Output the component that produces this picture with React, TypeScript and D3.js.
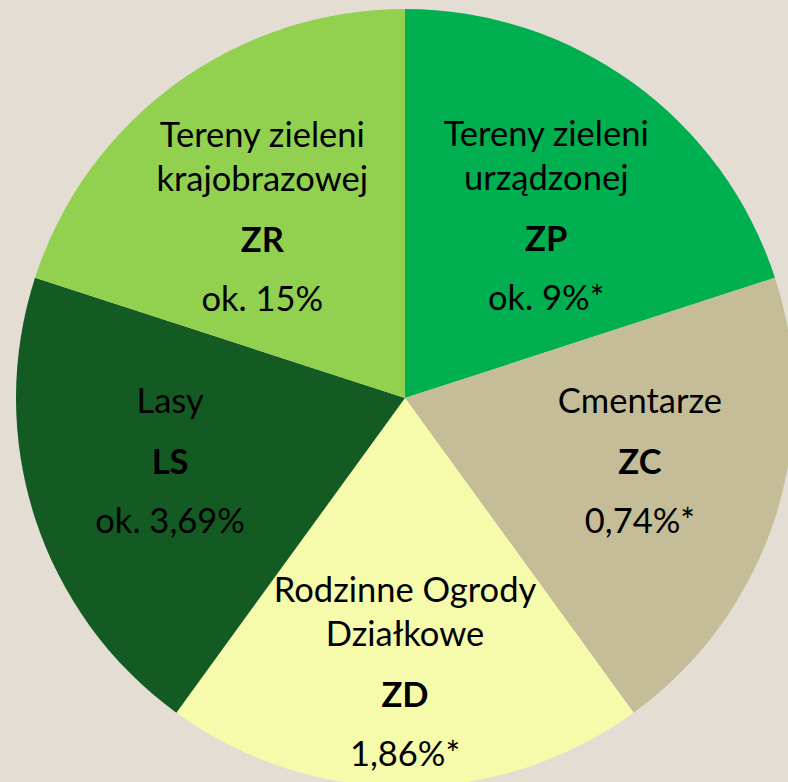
import { useEffect, useRef } from "react";
import * as d3 from "d3";

// slices clockwise from the top; the chart draws them as equal parts
const codes = ["ZP", "ZC", "ZD", "LS", "ZR"];
const names = [
  ["Tereny zieleni", "urządzonej"],
  ["Cmentarze"],
  ["Rodzinne Ogrody", "Działkowe"],
  ["Lasy"],
  ["Tereny zieleni", "krajobrazowej"],
];
const shares = ["ok. 9%*", "0,74%*", "1,86%*", "ok. 3,69%", "ok. 15%"];
const sliceWeights = [1, 1, 1, 1, 1];
const colors = ["#00b050", "#c4bd97", "#f5fbaa", "#145a23", "#92d050"];

export default function App() {
  const ref = useRef<SVGSVGElement>(null);

  useEffect(() => {
    document.body.style.margin = "0";
    document.body.style.background = "#e4ddd3";

    const width = 788;
    const height = 782;
    const cx = 405;
    const cy = 398;
    const radius = 389;

    const svg = d3.select(ref.current);
    svg.selectAll("*").remove();

    svg
      .append("rect")
      .attr("width", width)
      .attr("height", height)
      .attr("fill", "#e4ddd3");

    const g = svg.append("g").attr("transform", `translate(${cx},${cy})`);

    const pie = d3
      .pie<number>()
      .sort(null)
      .value((d) => d);
    const arcs = pie(sliceWeights);

    const arc = d3
      .arc<d3.PieArcDatum<number>>()
      .innerRadius(0)
      .outerRadius(radius);

    g.selectAll("path")
      .data(arcs)
      .enter()
      .append("path")
      .attr("d", arc)
      .attr("fill", (_d, i) => colors[i]);

    // where the bold code line sits: radius and angle shift from the slice middle
    const labelR = [204, 247, 309, 247, 204];
    const labelShift = [7.8, 0, 0, 0, -8.4];

    const nameGap = 44;
    const codeGap = 61;
    const shareGap = 59;

    arcs.forEach((a, i) => {
      const mid = (a.startAngle + a.endAngle) / 2 + (labelShift[i] * Math.PI) / 180;
      const x = labelR[i] * Math.sin(mid);
      const y = -labelR[i] * Math.cos(mid);
      const lines = names[i];
      const label = g
        .append("g")
        .attr("transform", `translate(${x},${y})`)
        .attr("font-family", "Lato, 'Open Sans', sans-serif")
        .attr("font-size", 34.5)
        .attr("fill", "#000")
        .attr("text-anchor", "middle");

      lines.forEach((line, j) => {
        label
          .append("text")
          .attr("y", -codeGap - (lines.length - 1 - j) * nameGap)
          .text(line);
      });
      label.append("text").attr("font-weight", "bold").text(codes[i]);
      label.append("text").attr("y", shareGap).text(shares[i]);
    });
  }, []);

  return (
    <svg
      ref={ref}
      width={788}
      height={782}
      style={{ display: "block" }}
    />
  );
}
